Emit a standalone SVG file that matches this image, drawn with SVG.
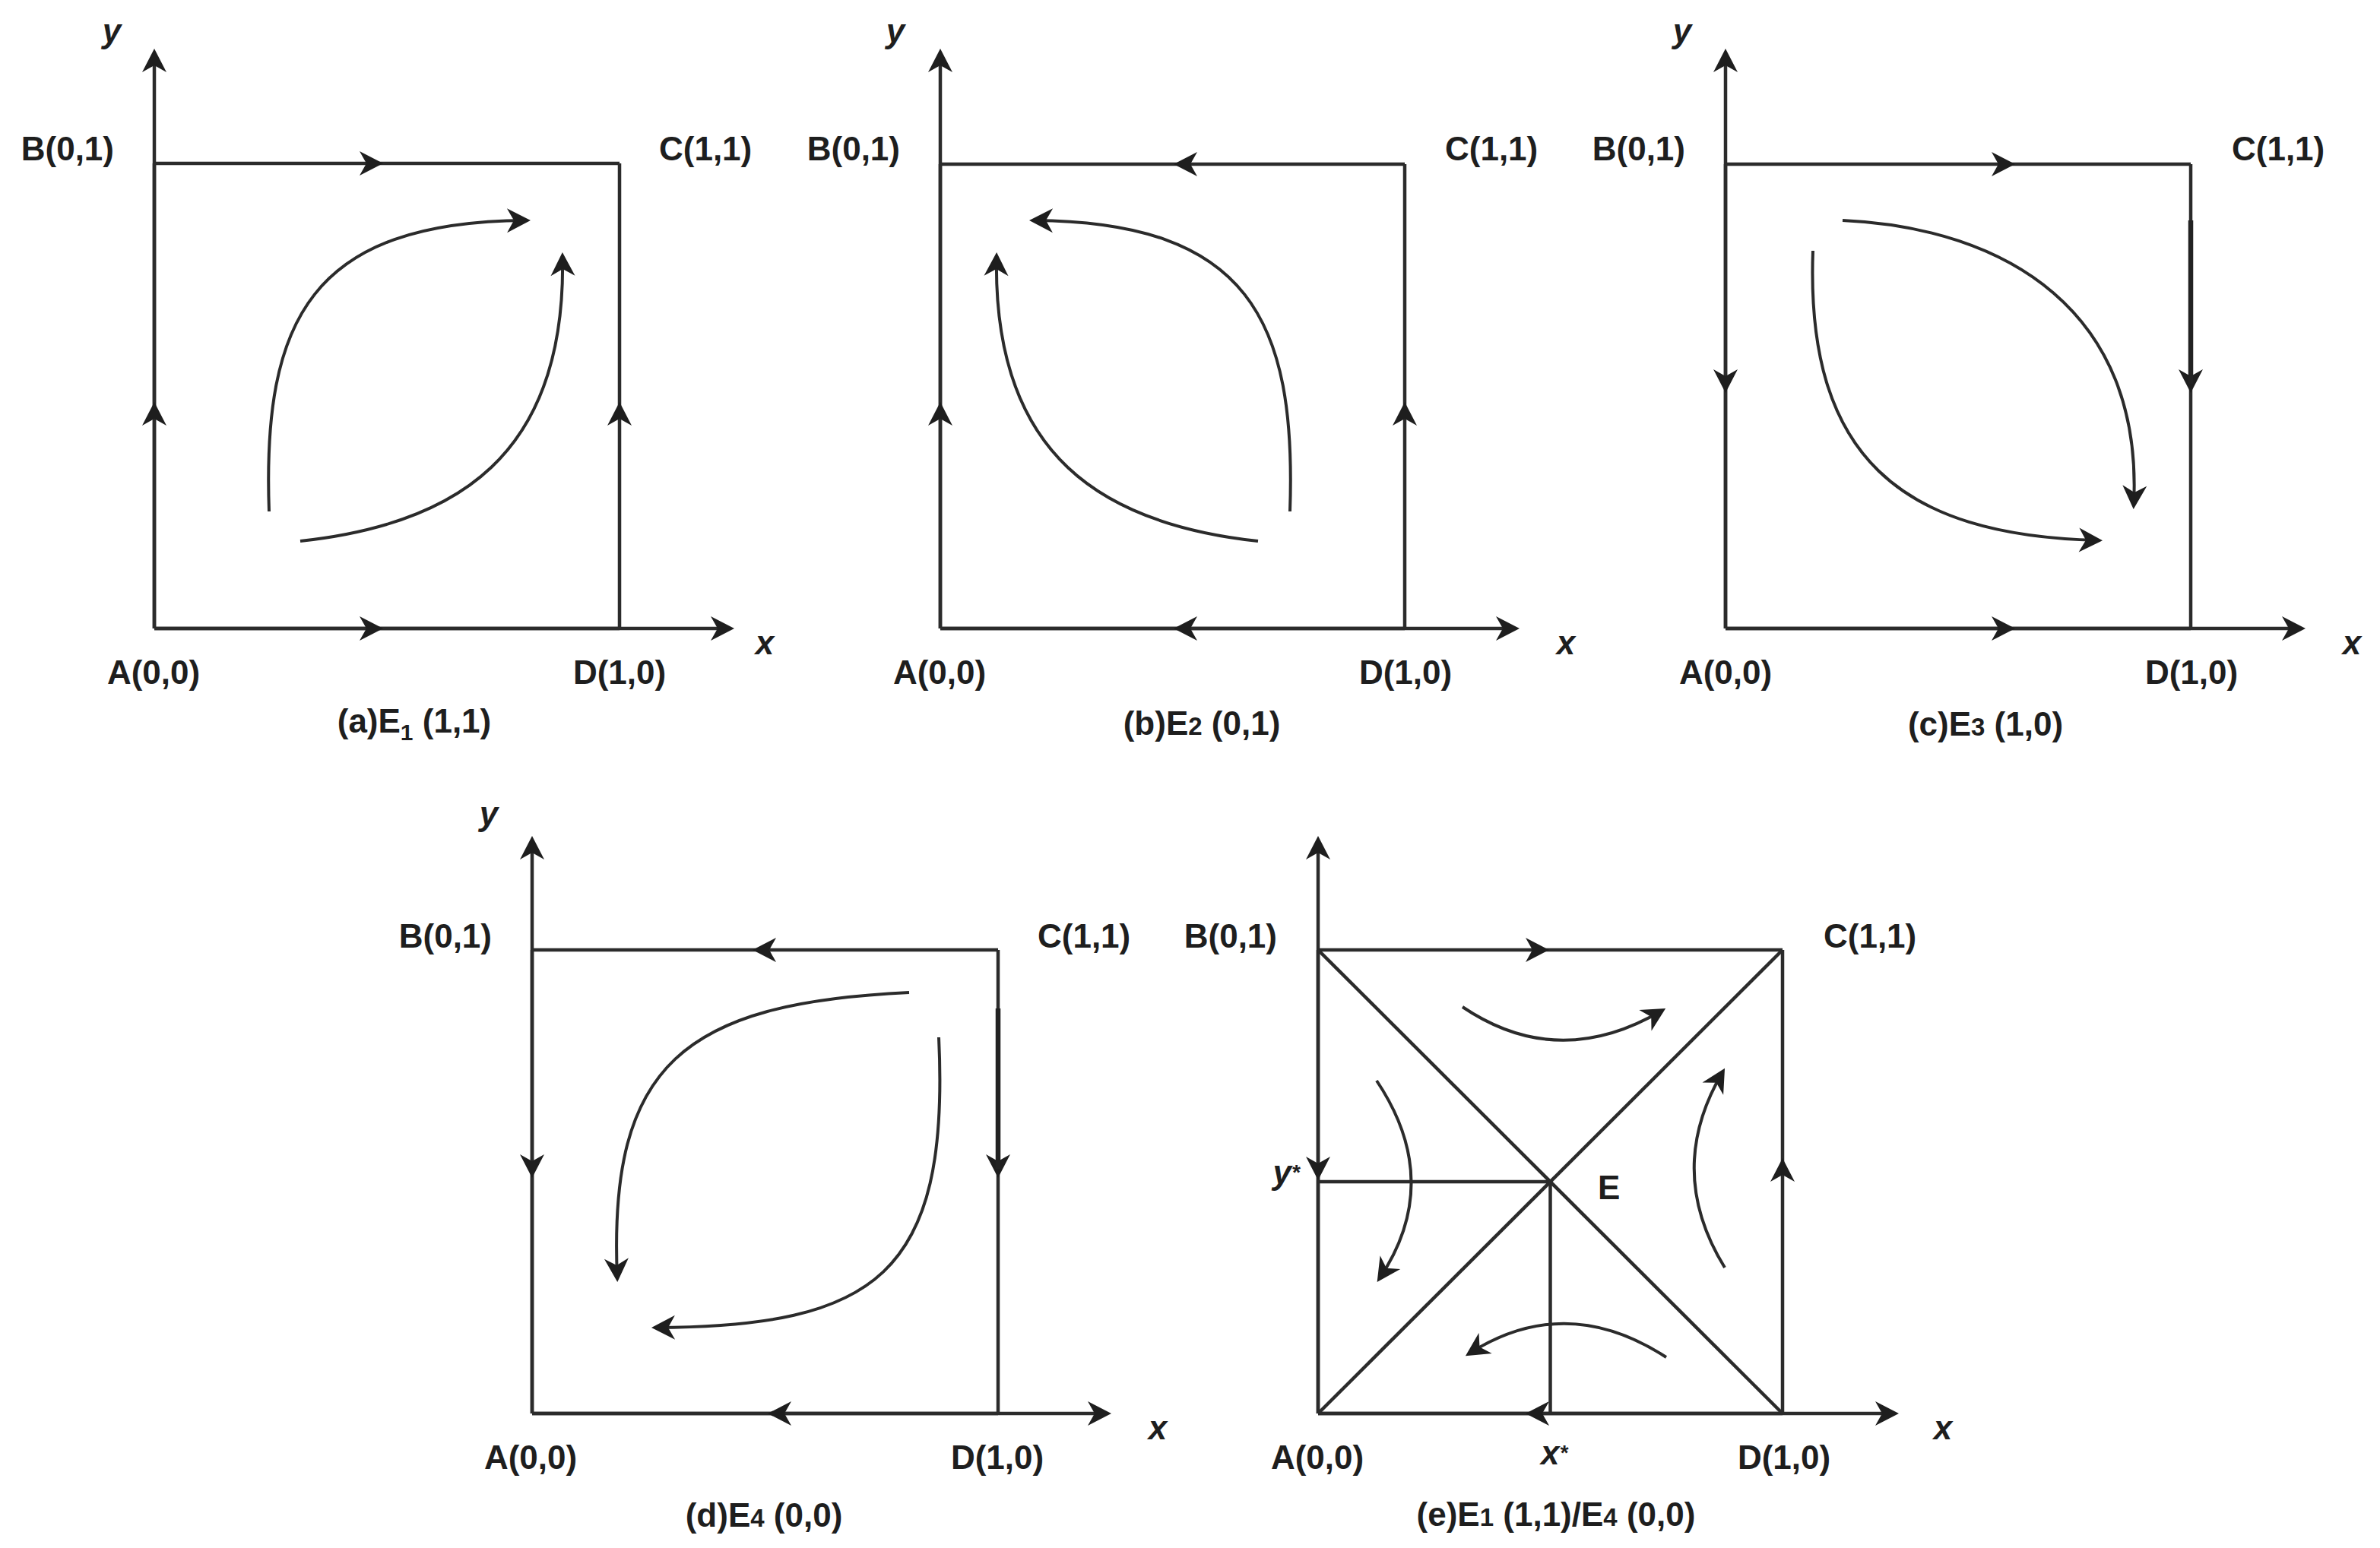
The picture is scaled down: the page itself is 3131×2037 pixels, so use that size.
<svg xmlns="http://www.w3.org/2000/svg" width="3131" height="2037" viewBox="0 0 3131 2037">
<style>
.ln{stroke:#2b2b2b;stroke-width:4.5;fill:none}
.th{stroke:#222;stroke-width:6.5;fill:none}
.cv{stroke:#2b2b2b;stroke-width:4;fill:none;marker-end:url(#ae)}
.ax{marker-end:url(#ae)}
.mk{marker-mid:url(#am)}
.lb{font-family:"Liberation Sans",Arial,Helvetica,sans-serif;font-weight:bold;font-size:44px;fill:#1e1e1e}
.it{font-style:italic}
.mid{text-anchor:middle}
.end{text-anchor:end}
</style>
<defs>
<marker id="ae" markerUnits="userSpaceOnUse" markerWidth="46" markerHeight="40" viewBox="-38 -20 46 40" refX="0" refY="0" orient="auto">
<path d="M6,0 L-25,-16 L-16,0 L-25,16 Z" fill="#1e1e1e"/>
</marker>
<marker id="am" markerUnits="userSpaceOnUse" markerWidth="46" markerHeight="40" viewBox="-38 -20 46 40" refX="0" refY="0" orient="auto">
<path d="M0,0 L-31,-16 L-22,0 L-31,16 Z" fill="#1e1e1e"/>
</marker>
</defs>
<rect width="3131" height="2037" fill="#ffffff"/>

<!-- Panel a -->
<g id="panel-a">
<g id="a-connectors">
<path class="ln ax" d="M203,827 V70"/>
<path class="ln ax" d="M203,827 H960"/>
<path class="ln mk" d="M203,827 L203,529 L203,215"/>
<path class="ln mk" d="M203,215 L504,215 L815,215"/>
<path class="ln mk" d="M815,827 L815,529 L815,215"/>
<path class="ln mk" d="M203,827 L504,827 L815,827"/>
<path class="cv" d="M354,673 C345,420 410,292 692,290"/>
<path class="cv" d="M395,712 C600,690 745,600 740,338"/>
</g>
<g id="a-node-A"><text class="lb mid" x="202" y="900">A(0,0)</text></g>
<g id="a-node-B"><text class="lb end" x="150" y="211">B(0,1)</text></g>
<g id="a-node-C"><text class="lb" x="867" y="211">C(1,1)</text></g>
<g id="a-node-D"><text class="lb mid" x="815" y="900">D(1,0)</text></g>
<g id="a-axis-labels">
<text class="lb it mid" x="147" y="56">y</text>
<text class="lb it mid" x="1006" y="861">x</text>
</g>
<g id="a-caption"><text class="lb mid" x="545" y="964">(a)E<tspan font-size="30" dy="10">1</tspan><tspan dy="-10"> (1,1)</tspan></text></g>
</g>

<!-- Panel b -->
<g id="panel-b">
<g id="b-connectors">
<path class="ln ax" d="M1237,827 V70"/>
<path class="ln ax" d="M1237,827 H1993"/>
<path class="ln mk" d="M1237,827 L1237,529 L1237,216"/>
<path class="ln mk" d="M1848,216 L1544,216 L1237,216"/>
<path class="ln mk" d="M1848,827 L1848,529 L1848,216"/>
<path class="ln mk" d="M1848,827 L1544,827 L1237,827"/>
<path class="cv" d="M1697,673 C1706,420 1641,292 1360,290"/>
<path class="cv" d="M1655,712 C1451,690 1306,600 1311,338"/>
</g>
<g id="b-node-A"><text class="lb mid" x="1236" y="900">A(0,0)</text></g>
<g id="b-node-B"><text class="lb end" x="1184" y="211">B(0,1)</text></g>
<g id="b-node-C"><text class="lb" x="1901" y="211">C(1,1)</text></g>
<g id="b-node-D"><text class="lb mid" x="1849" y="900">D(1,0)</text></g>
<g id="b-axis-labels">
<text class="lb it mid" x="1178" y="56">y</text>
<text class="lb it mid" x="2060" y="861">x</text>
</g>
<g id="b-caption"><text class="lb mid" x="1581" y="967">(b)E<tspan font-size="33">2</tspan> (0,1)</text></g>
</g>

<!-- Panel c -->
<g id="panel-c">
<g id="c-connectors">
<path class="ln ax" d="M2270,827 V70"/>
<path class="ln ax" d="M2270,827 H3027"/>
<path class="ln mk" d="M2270,216 L2270,517 L2270,827"/>
<path class="ln mk" d="M2270,216 L2651,216 L2882,216"/>
<path class="ln mk" d="M2882,216 L2882,517 L2882,827"/>
<path class="th" d="M2882,290 V505"/>
<path class="ln mk" d="M2270,827 L2651,827 L2882,827"/>
<path class="cv" d="M2424,290 C2640,300 2820,410 2807,664"/>
<path class="cv" d="M2385,330 C2375,600 2500,705 2760,711"/>
</g>
<g id="c-node-A"><text class="lb mid" x="2270" y="900">A(0,0)</text></g>
<g id="c-node-B"><text class="lb end" x="2217" y="211">B(0,1)</text></g>
<g id="c-node-C"><text class="lb" x="2936" y="211">C(1,1)</text></g>
<g id="c-node-D"><text class="lb mid" x="2883" y="900">D(1,0)</text></g>
<g id="c-axis-labels">
<text class="lb it mid" x="2213" y="56">y</text>
<text class="lb it mid" x="3094" y="861">x</text>
</g>
<g id="c-caption"><text class="lb mid" x="2612" y="968">(c)E<tspan font-size="33">3</tspan> (1,0)</text></g>
</g>

<!-- Panel d -->
<g id="panel-d">
<g id="d-connectors">
<path class="ln ax" d="M700,1860 V1106"/>
<path class="ln ax" d="M700,1860 H1456"/>
<path class="ln mk" d="M700,1250 L700,1550 L700,1860"/>
<path class="ln mk" d="M1313,1250 L990,1250 L700,1250"/>
<path class="ln mk" d="M1313,1250 L1313,1550 L1313,1860"/>
<path class="th" d="M1313,1327 V1538"/>
<path class="ln mk" d="M1313,1860 L1010,1860 L700,1860"/>
<path class="cv" d="M1196,1306 C900,1320 800,1400 812,1681"/>
<path class="cv" d="M1235,1365 C1250,1680 1150,1745 863,1747"/>
</g>
<g id="d-node-A"><text class="lb mid" x="698" y="1933">A(0,0)</text></g>
<g id="d-node-B"><text class="lb end" x="647" y="1247">B(0,1)</text></g>
<g id="d-node-C"><text class="lb" x="1365" y="1247">C(1,1)</text></g>
<g id="d-node-D"><text class="lb mid" x="1312" y="1933">D(1,0)</text></g>
<g id="d-axis-labels">
<text class="lb it mid" x="643" y="1086">y</text>
<text class="lb it mid" x="1523" y="1894">x</text>
</g>
<g id="d-caption"><text class="lb mid" x="1005" y="2009">(d)E<tspan font-size="33">4</tspan> (0,0)</text></g>
</g>

<!-- Panel e -->
<g id="panel-e">
<g id="e-connectors">
<path class="ln ax" d="M1734,1860 V1106"/>
<path class="ln ax" d="M1734,1860 H2492"/>
<path class="ln mk" d="M1734,1250 L1734,1553 L1734,1860"/>
<path class="ln mk" d="M1734,1250 L2038,1250 L2345,1250"/>
<path class="ln mk" d="M2345,1860 L2345,1524 L2345,1250"/>
<path class="ln mk" d="M2345,1860 L2007,1860 L1734,1860"/>
<path class="ln" d="M1734,1860 L2345,1250"/>
<path class="ln" d="M1734,1250 L2345,1860"/>
<path class="ln" d="M1734,1555 H2039.5 V1860"/>
<path class="cv" d="M1924,1325 Q2050,1410 2186,1330"/>
<path class="cv" d="M2269,1668 Q2190,1540 2266,1411"/>
<path class="cv" d="M2192,1786 Q2060,1700 1933,1781"/>
<path class="cv" d="M1811,1422 Q1900,1555 1815,1682"/>
</g>
<g id="e-node-A"><text class="lb mid" x="1733" y="1933">A(0,0)</text></g>
<g id="e-node-B"><text class="lb end" x="1680" y="1247">B(0,1)</text></g>
<g id="e-node-C"><text class="lb" x="2399" y="1247">C(1,1)</text></g>
<g id="e-node-D"><text class="lb mid" x="2347" y="1933">D(1,0)</text></g>
<g id="e-node-E"><text class="lb" x="2102" y="1578">E</text></g>
<g id="e-node-xstar"><text class="lb it" x="2027" y="1927">x<tspan font-size="28" dy="-6">*</tspan></text></g>
<g id="e-node-ystar"><text class="lb it end" x="1710" y="1558">y<tspan font-size="28" dy="-6">*</tspan></text></g>
<g id="e-axis-labels">
<text class="lb it mid" x="2556" y="1894">x</text>
</g>
<g id="e-caption"><text class="lb mid" x="2047" y="2008">(e)E<tspan font-size="33">1</tspan> (1,1)/E<tspan font-size="33">4</tspan> (0,0)</text></g>
</g>
</svg>
